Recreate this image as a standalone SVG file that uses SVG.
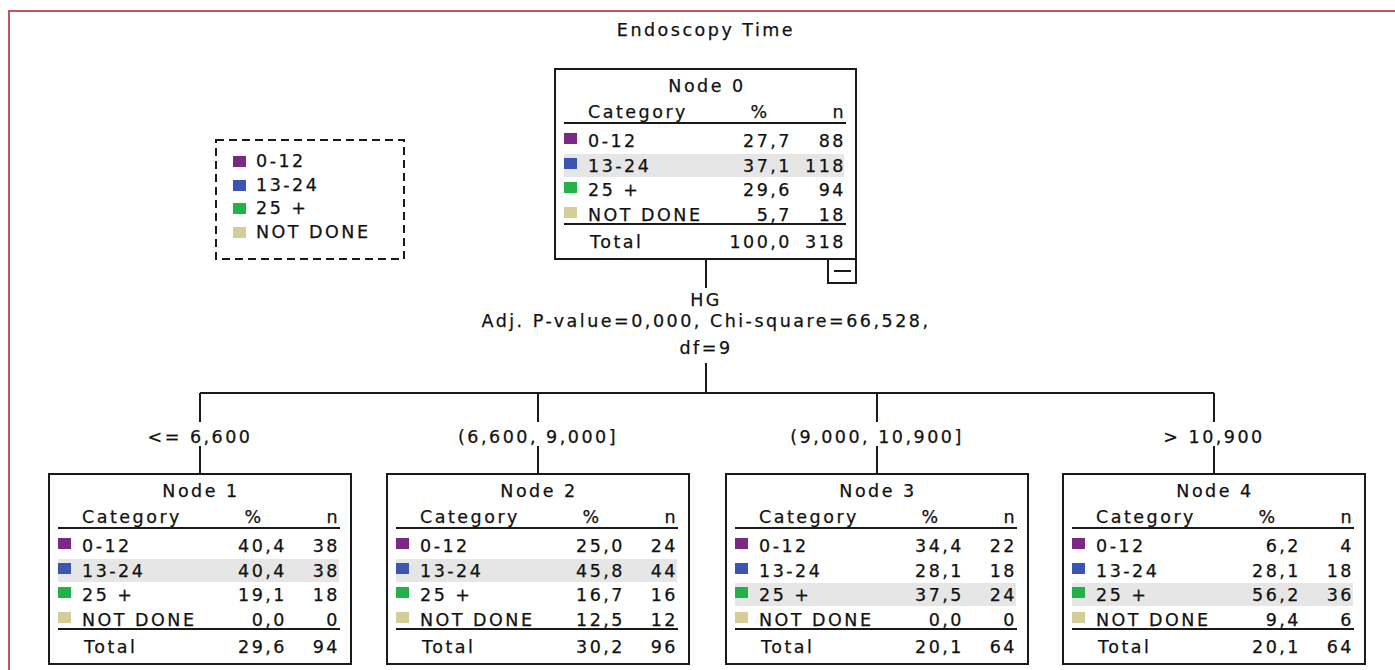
<svg xmlns="http://www.w3.org/2000/svg" width="1395" height="670" viewBox="0 0 1395 670">
  <style>
    text { font-family: "DejaVu Sans", "Liberation Sans", sans-serif; font-size: 17.5px; fill: #111; stroke: #111; stroke-width: 0.25px; letter-spacing: 2.5px; }
    .mid { text-anchor: middle; }
    .end { text-anchor: end; }
    .box { fill: #fff; stroke: #1a1a1a; stroke-width: 2; }
    .rule { stroke: #1a1a1a; stroke-width: 2; }
    .hl { fill: #e6e6e6; }
    .c1 { fill: #7a2a82; }
    .c2 { fill: #3b55b0; }
    .c3 { fill: #22b24a; }
    .c4 { fill: #d5cd98; }
    .edge { stroke: #1a1a1a; stroke-width: 2; fill: none; }
  </style>

  <!-- page frame -->
  <path d="M9,670 V11 H1395" fill="none" stroke="#c25560" stroke-width="2"/>

  <text class="mid" x="706" y="36">Endoscopy Time</text>

  <!-- legend -->
  <g id="legend">
    <rect x="216" y="140" width="188" height="119" fill="#fff" stroke="#1a1a1a" stroke-width="2" stroke-dasharray="8 5"/>
    <rect class="c1" x="233" y="156" width="13" height="11"/>
    <text x="256" y="167">0-12</text>
    <rect class="c2" x="233" y="180" width="13" height="11"/>
    <text x="256" y="191">13-24</text>
    <rect class="c3" x="233" y="203" width="13" height="11"/>
    <text x="256" y="214">25 +</text>
    <rect class="c4" x="233" y="227" width="13" height="11"/>
    <text x="256" y="238">NOT DONE</text>
  </g>

  <!-- connectors -->
  <g id="connectors">
    <path class="edge" d="M706,259 V288 M706,363 V393 M200,393 H1214"/>
    <path class="edge" d="M200,393 V422 M200,446 V474"/>
    <path class="edge" d="M538,393 V422 M538,446 V474"/>
    <path class="edge" d="M877,393 V422 M877,446 V474"/>
    <path class="edge" d="M1214,393 V422 M1214,446 V474"/>
    <text class="mid" x="706" y="306">HG</text>
    <text class="mid" x="706" y="327">Adj. P-value=0,000, Chi-square=66,528,</text>
    <text class="mid" x="706" y="354">df=9</text>
    <text class="mid" x="200" y="443">&lt;= 6,600</text>
    <text class="mid" x="538" y="443">(6,600, 9,000]</text>
    <text class="mid" x="877" y="443">(9,000, 10,900]</text>
    <text class="mid" x="1214" y="443">&gt; 10,900</text>
  </g>

  <!-- Node 0 -->
  <g id="node0" transform="translate(555,69)">
    <rect class="box" x="0" y="0" width="301" height="190"/>
    <rect class="hl" x="9" y="85" width="280" height="23"/>
    <text class="mid" x="152" y="23">Node 0</text>
    <text x="33" y="49">Category</text>
    <text class="mid" x="205" y="49">%</text>
    <text class="end" x="291" y="49">n</text>
    <line class="rule" x1="9" y1="54" x2="291" y2="54"/>
    <rect class="c1" x="9" y="64" width="13" height="11"/>
    <text x="33" y="78">0-12</text><text class="end" x="237" y="78">27,7</text><text class="end" x="291" y="78">88</text>
    <rect class="c2" x="9" y="89" width="13" height="11"/>
    <text x="33" y="103">13-24</text><text class="end" x="237" y="103">37,1</text><text class="end" x="291" y="103">118</text>
    <rect class="c3" x="9" y="113" width="13" height="11"/>
    <text x="33" y="127">25 +</text><text class="end" x="237" y="127">29,6</text><text class="end" x="291" y="127">94</text>
    <rect class="c4" x="9" y="138" width="13" height="11"/>
    <text x="33" y="152">NOT DONE</text><text class="end" x="237" y="152">5,7</text><text class="end" x="291" y="152">18</text>
    <line class="rule" x1="9" y1="155" x2="291" y2="155"/>
    <text x="35" y="179">Total</text><text class="end" x="237" y="179">100,0</text><text class="end" x="291" y="179">318</text>
    <rect class="box" x="273" y="190" width="28" height="24"/>
    <line class="rule" x1="279" y1="202" x2="296" y2="202"/>
  </g>

  <!-- Node 1 -->
  <g id="node1" transform="translate(49,474)">
    <rect class="box" x="0" y="0" width="302" height="190"/>
    <rect class="hl" x="9" y="85" width="281" height="23"/>
    <text class="mid" x="152" y="23">Node 1</text>
    <text x="33" y="49">Category</text>
    <text class="mid" x="205" y="49">%</text>
    <text class="end" x="291" y="49">n</text>
    <line class="rule" x1="9" y1="54" x2="291" y2="54"/>
    <rect class="c1" x="9" y="64" width="13" height="11"/>
    <text x="33" y="78">0-12</text><text class="end" x="238" y="78">40,4</text><text class="end" x="291" y="78">38</text>
    <rect class="c2" x="9" y="89" width="13" height="11"/>
    <text x="33" y="103">13-24</text><text class="end" x="238" y="103">40,4</text><text class="end" x="291" y="103">38</text>
    <rect class="c3" x="9" y="113" width="13" height="11"/>
    <text x="33" y="127">25 +</text><text class="end" x="238" y="127">19,1</text><text class="end" x="291" y="127">18</text>
    <rect class="c4" x="9" y="138" width="13" height="11"/>
    <text x="33" y="152">NOT DONE</text><text class="end" x="238" y="152">0,0</text><text class="end" x="291" y="152">0</text>
    <line class="rule" x1="9" y1="155" x2="291" y2="155"/>
    <text x="35" y="179">Total</text><text class="end" x="238" y="179">29,6</text><text class="end" x="291" y="179">94</text>
  </g>

  <!-- Node 2 -->
  <g id="node2" transform="translate(387,474)">
    <rect class="box" x="0" y="0" width="302" height="190"/>
    <rect class="hl" x="9" y="85" width="281" height="23"/>
    <text class="mid" x="152" y="23">Node 2</text>
    <text x="33" y="49">Category</text>
    <text class="mid" x="205" y="49">%</text>
    <text class="end" x="291" y="49">n</text>
    <line class="rule" x1="9" y1="54" x2="291" y2="54"/>
    <rect class="c1" x="9" y="64" width="13" height="11"/>
    <text x="33" y="78">0-12</text><text class="end" x="238" y="78">25,0</text><text class="end" x="291" y="78">24</text>
    <rect class="c2" x="9" y="89" width="13" height="11"/>
    <text x="33" y="103">13-24</text><text class="end" x="238" y="103">45,8</text><text class="end" x="291" y="103">44</text>
    <rect class="c3" x="9" y="113" width="13" height="11"/>
    <text x="33" y="127">25 +</text><text class="end" x="238" y="127">16,7</text><text class="end" x="291" y="127">16</text>
    <rect class="c4" x="9" y="138" width="13" height="11"/>
    <text x="33" y="152">NOT DONE</text><text class="end" x="238" y="152">12,5</text><text class="end" x="291" y="152">12</text>
    <line class="rule" x1="9" y1="155" x2="291" y2="155"/>
    <text x="35" y="179">Total</text><text class="end" x="238" y="179">30,2</text><text class="end" x="291" y="179">96</text>
  </g>

  <!-- Node 3 -->
  <g id="node3" transform="translate(726,474)">
    <rect class="box" x="0" y="0" width="302" height="190"/>
    <rect class="hl" x="9" y="109" width="281" height="23"/>
    <text class="mid" x="152" y="23">Node 3</text>
    <text x="33" y="49">Category</text>
    <text class="mid" x="205" y="49">%</text>
    <text class="end" x="291" y="49">n</text>
    <line class="rule" x1="9" y1="54" x2="291" y2="54"/>
    <rect class="c1" x="9" y="64" width="13" height="11"/>
    <text x="33" y="78">0-12</text><text class="end" x="238" y="78">34,4</text><text class="end" x="291" y="78">22</text>
    <rect class="c2" x="9" y="89" width="13" height="11"/>
    <text x="33" y="103">13-24</text><text class="end" x="238" y="103">28,1</text><text class="end" x="291" y="103">18</text>
    <rect class="c3" x="9" y="113" width="13" height="11"/>
    <text x="33" y="127">25 +</text><text class="end" x="238" y="127">37,5</text><text class="end" x="291" y="127">24</text>
    <rect class="c4" x="9" y="138" width="13" height="11"/>
    <text x="33" y="152">NOT DONE</text><text class="end" x="238" y="152">0,0</text><text class="end" x="291" y="152">0</text>
    <line class="rule" x1="9" y1="155" x2="291" y2="155"/>
    <text x="35" y="179">Total</text><text class="end" x="238" y="179">20,1</text><text class="end" x="291" y="179">64</text>
  </g>

  <!-- Node 4 -->
  <g id="node4" transform="translate(1063,474)">
    <rect class="box" x="0" y="0" width="302" height="190"/>
    <rect class="hl" x="9" y="109" width="281" height="23"/>
    <text class="mid" x="152" y="23">Node 4</text>
    <text x="33" y="49">Category</text>
    <text class="mid" x="205" y="49">%</text>
    <text class="end" x="291" y="49">n</text>
    <line class="rule" x1="9" y1="54" x2="291" y2="54"/>
    <rect class="c1" x="9" y="64" width="13" height="11"/>
    <text x="33" y="78">0-12</text><text class="end" x="238" y="78">6,2</text><text class="end" x="291" y="78">4</text>
    <rect class="c2" x="9" y="89" width="13" height="11"/>
    <text x="33" y="103">13-24</text><text class="end" x="238" y="103">28,1</text><text class="end" x="291" y="103">18</text>
    <rect class="c3" x="9" y="113" width="13" height="11"/>
    <text x="33" y="127">25 +</text><text class="end" x="238" y="127">56,2</text><text class="end" x="291" y="127">36</text>
    <rect class="c4" x="9" y="138" width="13" height="11"/>
    <text x="33" y="152">NOT DONE</text><text class="end" x="238" y="152">9,4</text><text class="end" x="291" y="152">6</text>
    <line class="rule" x1="9" y1="155" x2="291" y2="155"/>
    <text x="35" y="179">Total</text><text class="end" x="238" y="179">20,1</text><text class="end" x="291" y="179">64</text>
  </g>
</svg>
